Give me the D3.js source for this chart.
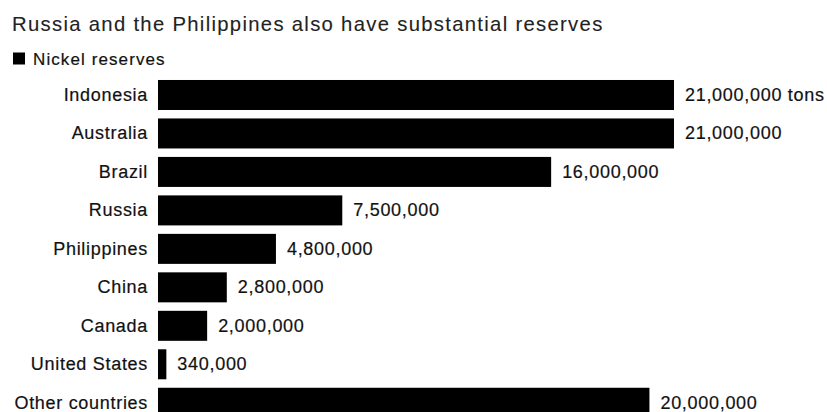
<!DOCTYPE html>
<html>
<head>
<meta charset="utf-8">
<script src="https://cdn.jsdelivr.net/npm/d3@7"></script>
<style>
  body { margin: 0; background: #fff; }
  text { font-family: "Liberation Sans", Arial, sans-serif; }
</style>
</head>
<body>
<div id="chart"></div>
<script>
// data (tons)
var countries = ["Indonesia", "Australia", "Brazil", "Russia", "Philippines",
                 "China", "Canada", "United States", "Other countries"];
var reserves = [21000000, 21000000, 16000000, 7500000, 4800000,
                2800000, 2000000, 340000, 20000000];
var valueLabels = ["21,000,000 tons", "21,000,000", "16,000,000", "7,500,000", "4,800,000",
                   "2,800,000", "2,000,000", "340,000", "20,000,000"];

var title = "Russia and the Philippines also have substantial reserves";
var legendLabel = "Nickel reserves";

var width = 827, height = 412;

var rows = countries.map(function (c, i) {
    return { name: c, value: reserves[i], label: valueLabels[i] };
});

var svg = d3.select("#chart")
    .append("svg")
    .attr("width", width)
    .attr("height", height);

// x scale for bar lengths
var x = d3.scaleLinear()
    .domain([0, 21000000])
    .range([158, 674]);

// rows
var y = d3.scaleBand()
    .domain(countries)
    .range([75.75, 422])
    .paddingInner(0.22)
    .paddingOuter(0.11);

// title
svg.append("text")
    .attr("x", 12)
    .attr("y", 31)
    .attr("font-size", 20.3)
    .attr("letter-spacing", 1.3)
    .attr("fill", "#222")
    .attr("stroke", "#222")
    .attr("stroke-width", 0.1)
    .text(title);

// legend
svg.append("rect")
    .attr("x", 13)
    .attr("y", 52.5)
    .attr("width", 12)
    .attr("height", 12)
    .attr("fill", "#000");

svg.append("text")
    .attr("x", 33)
    .attr("y", 64.5)
    .attr("font-size", 17)
    .attr("letter-spacing", 1.1)
    .attr("fill", "#111")
    .attr("stroke", "#111")
    .attr("stroke-width", 0.2)
    .text(legendLabel);

// bars
svg.selectAll("rect.bar")
    .data(rows)
    .enter()
    .append("rect")
    .attr("class", "bar")
    .attr("x", x(0))
    .attr("y", d => y(d.name))
    .attr("width", d => x(d.value) - x(0))
    .attr("height", y.bandwidth())
    .attr("fill", "#000");

// country labels
svg.selectAll("text.cat")
    .data(rows)
    .enter()
    .append("text")
    .attr("class", "cat")
    .attr("x", x(0) - 10)
    .attr("y", d => y(d.name) + y.bandwidth() / 2)
    .attr("dy", "0.32em")
    .attr("text-anchor", "end")
    .attr("font-size", 18)
    .attr("letter-spacing", 0.7)
    .attr("fill", "#111")
    .attr("stroke", "#111")
    .attr("stroke-width", 0.2)
    .text(d => d.name);

// value labels
svg.selectAll("text.val")
    .data(rows)
    .enter()
    .append("text")
    .attr("class", "val")
    .attr("x", d => x(d.value) + 11)
    .attr("y", d => y(d.name) + y.bandwidth() / 2)
    .attr("dy", "0.32em")
    .attr("font-size", 18)
    .attr("letter-spacing", 0.7)
    .attr("fill", "#111")
    .attr("stroke", "#111")
    .attr("stroke-width", 0.2)
    .text(d => d.label);
</script>
</body>
</html>
